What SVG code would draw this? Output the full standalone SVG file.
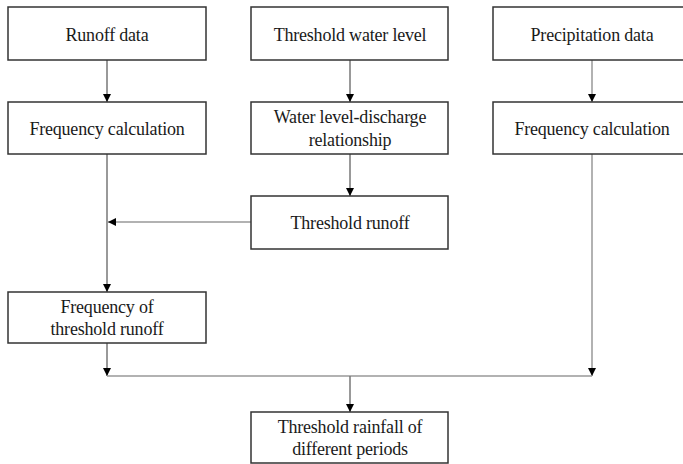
<svg xmlns="http://www.w3.org/2000/svg" width="683" height="464" viewBox="0 0 683 464">
<defs>
<marker id="ah" viewBox="0 0 10 10" refX="10" refY="5" markerWidth="9" markerHeight="8" markerUnits="userSpaceOnUse" orient="auto">
<path d="M0,0 L10,5 L0,10 Z" fill="#000"/>
</marker>
</defs>
<style>
.box{fill:#fff;stroke:#333;stroke-width:1.5}
.t{font-family:"Liberation Serif","Times New Roman",serif;font-size:18px;fill:#1a1a1a;text-anchor:middle;letter-spacing:-0.2px}
.c{fill:none;stroke:#777;stroke-width:1.5}
.g{fill:none;stroke:#999;stroke-width:1.5}
</style>
<rect width="683" height="464" fill="#fff"/>
<g id="connectors">
<line class="c" x1="107" y1="60" x2="107" y2="102" marker-end="url(#ah)"/>
<line class="c" x1="350" y1="60" x2="350" y2="102" marker-end="url(#ah)"/>
<line class="g" x1="592" y1="60" x2="592" y2="102" marker-end="url(#ah)"/>
<line class="c" x1="350" y1="154" x2="350" y2="196" marker-end="url(#ah)"/>
<line class="c" x1="107" y1="154" x2="107" y2="292" marker-end="url(#ah)"/>
<line class="g" x1="251" y1="222" x2="108" y2="222" marker-end="url(#ah)"/>
<line class="c" x1="107" y1="343" x2="107" y2="376" marker-end="url(#ah)"/>
<line class="g" x1="592" y1="154" x2="592" y2="376" marker-end="url(#ah)"/>
<line class="g" x1="107" y1="376" x2="592" y2="376"/>
<line class="c" x1="350" y1="376" x2="350" y2="412" marker-end="url(#ah)"/>
</g>
<g id="runoff-data">
<rect class="box" x="8" y="7" width="198" height="53"/>
<text class="t" x="107" y="41">Runoff data</text>
</g>
<g id="threshold-water-level">
<rect class="box" x="251" y="7" width="197" height="53"/>
<text class="t" x="350" y="41">Threshold water level</text>
</g>
<g id="precipitation-data">
<rect class="box" x="493" y="7" width="199" height="53"/>
<text class="t" x="592" y="41">Precipitation data</text>
</g>
<g id="frequency-calculation-1">
<rect class="box" x="8" y="102" width="198" height="52"/>
<text class="t" x="107" y="135">Frequency calculation</text>
</g>
<g id="water-level-discharge">
<rect class="box" x="251" y="102" width="197" height="52"/>
<text class="t" x="350" y="123">Water level-discharge</text>
<text class="t" x="350" y="146">relationship</text>
</g>
<g id="frequency-calculation-2">
<rect class="box" x="493" y="102" width="199" height="52"/>
<text class="t" x="592" y="135">Frequency calculation</text>
</g>
<g id="threshold-runoff">
<rect class="box" x="251" y="196" width="197" height="53"/>
<text class="t" x="350" y="229">Threshold runoff</text>
</g>
<g id="frequency-of-threshold-runoff">
<rect class="box" x="8" y="292" width="198" height="51"/>
<text class="t" x="107" y="313">Frequency of</text>
<text class="t" x="107" y="335">threshold runoff</text>
</g>
<g id="threshold-rainfall">
<rect class="box" x="251" y="412" width="197" height="51"/>
<text class="t" x="350" y="433">Threshold rainfall of</text>
<text class="t" x="350" y="455">different periods</text>
</g>
</svg>
